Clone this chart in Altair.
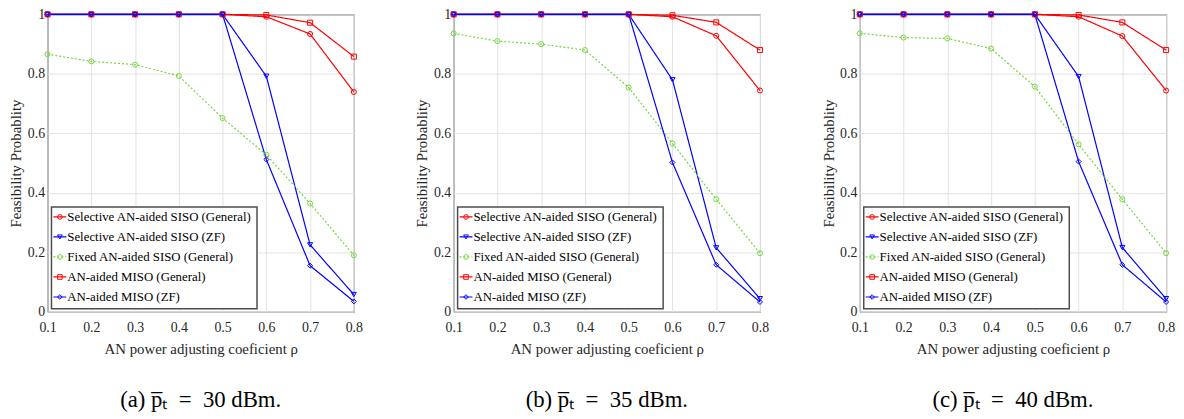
import altair as alt
import pandas as pd

rho = [0.1, 0.2, 0.3, 0.4, 0.5, 0.6, 0.7, 0.8]
y_ticks = [0, 0.2, 0.4, 0.6, 0.8, 1.0]

series = [
    "Selective AN-aided SISO (General)",
    "Selective AN-aided SISO (ZF)",
    "Fixed AN-aided SISO (General)",
    "AN-aided MISO (General)",
    "AN-aided MISO (ZF)",
]
colors = ["#FF0000", "#0000FF", "#74D63C", "#FF0000", "#0000FF"]
shapes = ["circle", "triangle-down", "circle", "square", "diamond"]
dashes = [[1, 0], [1, 0], [2, 2], [1, 0], [1, 0]]

# panel (a) 30 dBm
sel_gen_a = [1, 1, 1, 1, 1, 0.992, 0.934, 0.739]
sel_zf_a = [1, 1, 1, 1, 1, 0.792, 0.225, 0.058]
fixed_a = [0.866, 0.842, 0.831, 0.793, 0.651, 0.528, 0.364, 0.190]
miso_gen_a = [1, 1, 1, 1, 1, 0.998, 0.972, 0.858]
miso_zf_a = [1, 1, 1, 1, 1, 0.512, 0.155, 0.035]

# panel (b) 35 dBm
sel_gen_b = [1, 1, 1, 1, 1, 0.992, 0.928, 0.744]
sel_zf_b = [1, 1, 1, 1, 1, 0.780, 0.215, 0.044]
fixed_b = [0.936, 0.910, 0.900, 0.880, 0.754, 0.566, 0.378, 0.197]
miso_gen_b = [1, 1, 1, 1, 1, 0.997, 0.973, 0.880]
miso_zf_b = [1, 1, 1, 1, 1, 0.502, 0.158, 0.033]

# panel (c) 40 dBm
sel_gen_c = [1, 1, 1, 1, 1, 0.992, 0.927, 0.744]
sel_zf_c = [1, 1, 1, 1, 1, 0.791, 0.216, 0.044]
fixed_c = [0.936, 0.922, 0.919, 0.885, 0.757, 0.563, 0.378, 0.197]
miso_gen_c = [1, 1, 1, 1, 1, 0.998, 0.973, 0.880]
miso_zf_c = [1, 1, 1, 1, 1, 0.505, 0.158, 0.033]

captions = [
    "(a) p\u0305\u209c\u2002=\u200230 dBm.",
    "(b) p\u0305\u209c\u2002=\u200235 dBm.",
    "(c) p\u0305\u209c\u2002=\u200240 dBm.",
]

FONT = "Liberation Serif, Times New Roman, serif"
W, H = 310, 301

color_enc = alt.Color("series:N", scale=alt.Scale(domain=series, range=colors), legend=None)
dash_enc = alt.StrokeDash("series:N", scale=alt.Scale(domain=series, range=dashes), legend=None)
shape_enc = alt.Shape("series:N", scale=alt.Scale(domain=series, range=shapes), legend=None)


def panel(cols, caption):
    rows = []
    for name, vals in zip(series, cols):
        for r, v in zip(rho, vals):
            rows.append({"series": name, "rho": r, "value": v})
    df = pd.DataFrame(rows)
    base = alt.Chart(df)
    x = alt.X(
        "rho:Q",
        scale=alt.Scale(domain=[0.1, 0.8], nice=False),
        axis=alt.Axis(values=rho, format=".1f", title="AN power adjusting coeficient ρ"),
    )
    y = alt.Y(
        "value:Q",
        scale=alt.Scale(domain=[0, 1], nice=False),
        axis=alt.Axis(values=y_ticks, format="~g", title="Feasibility Probablity"),
    )
    lines = base.mark_line(strokeWidth=1.2).encode(
        x=x, y=y, color=color_enc, strokeDash=dash_enc, detail="series:N"
    )
    points = base.mark_point(filled=False, size=26, strokeWidth=1, opacity=1).encode(
        x=x, y=y, color=color_enc, shape=shape_enc
    )
    main = alt.layer(lines, points)

    ldf = pd.DataFrame({"series": series, "idx": list(range(len(series)))})
    ly = alt.Y("idx:Q", scale=alt.Scale(domain=[0, 4], range=[205, 286]), axis=None)
    box = alt.Chart(pd.DataFrame({"b": [0]})).mark_rect(
        fill="white", stroke="#4d4d4d", strokeWidth=1.5
    ).encode(x=alt.value(4), x2=alt.value(212), y=alt.value(195), y2=alt.value(298))
    lrule = alt.Chart(ldf).mark_rule(strokeWidth=1.2).encode(
        x=alt.value(6), x2=alt.value(19), y=ly, color=color_enc, strokeDash=dash_enc
    )
    lpoint = alt.Chart(ldf).mark_point(filled=False, size=22, strokeWidth=1, opacity=1).encode(
        x=alt.value(12.5), y=ly, color=color_enc, shape=shape_enc
    )
    ltext = alt.Chart(ldf).mark_text(
        align="left", baseline="middle", font=FONT, fontSize=13, color="black"
    ).encode(x=alt.value(20), y=ly, text="series:N")

    return alt.layer(main, box, lrule, lpoint, ltext).resolve_scale(y="independent").properties(
        width=W,
        height=H,
        title=alt.TitleParams(
            caption, orient="bottom", font=FONT, fontSize=23, fontWeight="normal",
            color="black", offset=33, anchor="middle",
        ),
    )


pa = panel([sel_gen_a, sel_zf_a, fixed_a, miso_gen_a, miso_zf_a], captions[0])
pb = panel([sel_gen_b, sel_zf_b, fixed_b, miso_gen_b, miso_zf_b], captions[1])
pc = panel([sel_gen_c, sel_zf_c, fixed_c, miso_gen_c, miso_zf_c], captions[2])

chart = (
    alt.hconcat(pa, pb, pc, spacing=101, bounds="flush")
    .properties(padding={"top": -4, "left": 0, "right": 0, "bottom": 0})
    .configure_view(stroke="#262626", strokeWidth=1)
    .configure_axis(
        grid=True,
        gridColor="#E3E3E3",
        gridWidth=1,
        domain=False,
        ticks=False,
        labelFlush=False,
        labelFont=FONT,
        labelFontSize=14,
        labelColor="#262626",
        titleFont=FONT,
        titleFontSize=15,
        titleFontWeight="normal",
        titleColor="#262626",
    )
    .configure_axisX(labelPadding=9, titlePadding=7)
    .configure_axisY(labelPadding=3, titlePadding=2, minExtent=22, maxExtent=22)
)

chart.save("out.html", embed_options={"renderer": "svg", "actions": False})
